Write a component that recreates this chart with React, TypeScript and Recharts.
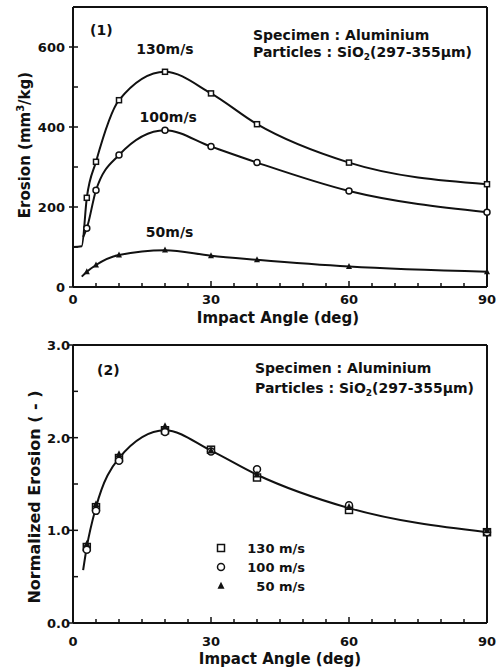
import { ComposedChart, Line, Scatter, XAxis, YAxis, ReferenceLine, ReferenceDot, Legend } from 'recharts'

// impact angles (deg) where erosion was measured
const angles = [3, 5, 10, 20, 30, 40, 60, 90]

// panel (1): erosion, mm3/kg
const erosion130 = [223, 313, 467, 538, 484, 407, 311, 257]
const erosion100 = [147, 242, 330, 392, 351, 311, 240, 187]
const erosion50 = [38, 55, 80, 92, 78, 68, 51, 38]

// the drawn curves start a little left of the first measured angle
const curveStartAngles130 = [0, 1.9]
const curveStartValues130 = [100, 102]
const curveStartAngles100 = [2.2]
const curveStartValues100 = [125]
const curveStartAngles50 = [1.9]
const curveStartValues50 = [26]

// panel (2): normalized erosion
const norm130 = [0.82, 1.25, 1.78, 2.08, 1.87, 1.57, 1.22, 0.98]
const norm100 = [0.79, 1.21, 1.75, 2.06, 1.85, 1.66, 1.27, 0.98]
const norm50 = [0.85, 1.28, 1.82, 2.12, 1.86, 1.6, 1.25, 1.0]
const normFit = [0.82, 1.25, 1.78, 2.08, 1.86, 1.6, 1.24, 0.98]
const normStartAngles = [2.2]
const normStartValues = [0.57]

const xTicks = [0, 5, 10, 15, 20, 25, 30, 35, 40, 45, 50, 55, 60, 65, 70, 75, 80, 85, 90]
const xTickLabels = ['0', '30', '60', '90']
const erosionTicks = [0, 100, 200, 300, 400, 500, 600, 700]
const erosionTickLabels = ['0', '200', '400', '600']
const normTicks = [0, 0.5, 1, 1.5, 2, 2.5, 3]
const normTickLabels = ['0.0', '1.0', '2.0', '3.0']

const speeds = ['130 m/s', '100 m/s', '50 m/s']

const pts = (xs: number[], ys: number[]) => xs.map((x, i) => ({ x, y: ys[i] }))

const FONT = '"DejaVu Sans", "Liberation Sans", sans-serif'
const INK = '#111'

function makeXTick(labelDy: number) {
  return function XTick({ x, y, payload }: any) {
    const label = xTickLabels.find((l) => Number(l) === payload.value)
    return (
      <g>
        <line x1={x} y1={y} x2={x} y2={y - (label ? 6 : 4)} stroke={INK} strokeWidth={1.5} />
        {label && (
          <text x={x} y={y + labelDy} textAnchor="middle" fontFamily={FONT} fontWeight="bold" fontSize={13} fill={INK}>
            {label}
          </text>
        )}
      </g>
    )
  }
}

function makeYTick(labels: string[], gap: number) {
  return function YTick({ x, y, payload }: any) {
    const label = labels.find((l) => Number(l) === payload.value)
    return (
      <g>
        <line x1={x} y1={y} x2={x + 5} y2={y} stroke={INK} strokeWidth={1.5} />
        {label && <line x1={x - 4} y1={y} x2={x} y2={y} stroke={INK} strokeWidth={1.5} />}
        {label && (
          <text x={x - gap} y={y + 5} textAnchor="end" fontFamily={FONT} fontWeight="bold" fontSize={13} fill={INK}>
            {label}
          </text>
        )}
      </g>
    )
  }
}

const openSquare = (s: number) => ({ cx, cy }: any) => (
  <rect x={cx - s / 2} y={cy - s / 2} width={s} height={s} fill="#fff" stroke={INK} strokeWidth={1.5} />
)
const openCircle = (r: number) => ({ cx, cy }: any) => (
  <circle cx={cx} cy={cy} r={r} fill="#fff" stroke={INK} strokeWidth={1.5} />
)
const solidTriangle = (s: number) => ({ cx, cy }: any) => (
  <path d={`M${cx},${cy - s * 0.6}L${cx + s / 2},${cy + s * 0.4}L${cx - s / 2},${cy + s * 0.4}Z`} fill={INK} />
)

function SpeedLabel({ viewBox, value }: any) {
  return (
    <text x={viewBox.x} y={viewBox.y + 5} textAnchor="middle" fontFamily={FONT} fontWeight="bold" fontSize={14} fill={INK}>
      {value}
    </text>
  )
}

function NormLegend() {
  const shapes = [openSquare(7), openCircle(3.5), solidTriangle(7)]
  return (
    <svg width={110} height={60}>
      {speeds.map((s, i) => (
        <g key={s}>
          {shapes[i]({ cx: 9, cy: 8 + i * 19 })}
          <text x={93} y={13 + i * 19} textAnchor="end" fontFamily={FONT} fontWeight="bold" fontSize={13} fill={INK}>
            {s}
          </text>
        </g>
      ))}
    </svg>
  )
}

const textStyle = { fontFamily: FONT, fontWeight: 'bold' as const, fill: INK }

export default function App() {
  const c130 = [...pts(curveStartAngles130, curveStartValues130), ...pts(angles, erosion130)]
  const c100 = [...pts(curveStartAngles100, curveStartValues100), ...pts(angles, erosion100)]
  const c50 = [...pts(curveStartAngles50, curveStartValues50), ...pts(angles, erosion50)]
  const cNorm = [...pts(normStartAngles, normStartValues), ...pts(angles, normFit)]

  return (
    <div style={{ position: 'absolute', left: 0, top: 0, width: 499, height: 671, background: '#fff' }}>
      <div style={{ position: 'absolute', left: 0, top: 0 }}>
        <ComposedChart width={499} height={330} margin={{ top: 7, right: 12, left: 0, bottom: 0 }}>
          <XAxis
            type="number"
            dataKey="x"
            domain={[0, 90]}
            ticks={xTicks}
            interval={0}
            height={43}
            tickSize={0}
            tickMargin={0}
            tick={makeXTick(17)}
            axisLine={{ stroke: INK, strokeWidth: 2 }}
          />
          <YAxis
            type="number"
            dataKey="y"
            domain={[0, 700]}
            ticks={erosionTicks}
            interval={0}
            width={73}
            tickSize={0}
            tickMargin={0}
            tick={makeYTick(erosionTickLabels, 8)}
            axisLine={{ stroke: INK, strokeWidth: 2 }}
          />
          <ReferenceLine y={700} stroke={INK} strokeWidth={2} />
          <ReferenceLine x={90} stroke={INK} strokeWidth={2} />
          <Line data={c130} dataKey="y" type="monotone" stroke={INK} strokeWidth={2} dot={false} isAnimationActive={false} />
          <Line data={c100} dataKey="y" type="monotone" stroke={INK} strokeWidth={2} dot={false} isAnimationActive={false} />
          <Line data={c50} dataKey="y" type="monotone" stroke={INK} strokeWidth={2} dot={false} isAnimationActive={false} />
          <Scatter data={pts(angles, erosion130)} shape={openSquare(5)} isAnimationActive={false} />
          <Scatter data={pts(angles, erosion100)} shape={openCircle(3)} isAnimationActive={false} />
          <Scatter data={pts(angles, erosion50)} shape={solidTriangle(6)} isAnimationActive={false} />
          <ReferenceDot x={20} y={595} r={0} label={<SpeedLabel value="130m/s" />} />
          <ReferenceDot x={20.7} y={425} r={0} label={<SpeedLabel value="100m/s" />} />
          <ReferenceDot x={21} y={137} r={0} label={<SpeedLabel value="50m/s" />} />
        </ComposedChart>
      </div>

      <div style={{ position: 'absolute', left: 0, top: 330 }}>
        <ComposedChart width={499} height={341} margin={{ top: 15, right: 12, left: 0, bottom: 0 }}>
          <XAxis
            type="number"
            dataKey="x"
            domain={[0, 90]}
            ticks={xTicks}
            interval={0}
            height={48}
            tickSize={0}
            tickMargin={0}
            tick={makeXTick(23)}
            axisLine={{ stroke: INK, strokeWidth: 2 }}
          />
          <YAxis
            type="number"
            dataKey="y"
            domain={[0, 3]}
            ticks={normTicks}
            interval={0}
            width={73}
            tickSize={0}
            tickMargin={0}
            tick={makeYTick(normTickLabels, 3)}
            axisLine={{ stroke: INK, strokeWidth: 2 }}
          />
          <ReferenceLine y={3} stroke={INK} strokeWidth={2} />
          <ReferenceLine x={90} stroke={INK} strokeWidth={2} />
          <Line data={cNorm} dataKey="y" type="monotone" stroke={INK} strokeWidth={2} dot={false} isAnimationActive={false} />
          <Scatter name={speeds[0]} data={pts(angles, norm130)} shape={openSquare(7)} isAnimationActive={false} />
          <Scatter name={speeds[1]} data={pts(angles, norm100)} shape={openCircle(3.5)} isAnimationActive={false} />
          <Scatter name={speeds[2]} data={pts(angles, norm50)} shape={solidTriangle(7)} isAnimationActive={false} />
          <Legend
            layout="horizontal"
            verticalAlign="middle"
            align="center"
            content={() => <NormLegend />}
            wrapperStyle={{ left: 212, top: 210, width: 110, height: 60 }}
          />
        </ComposedChart>
      </div>

      <svg width={499} height={671} style={{ position: 'absolute', left: 0, top: 0, pointerEvents: 'none' }}>
        <g {...textStyle}>
          <text x={90} y={35} fontSize={14}>(1)</text>
          <text x={253} y={40} fontSize={14}>Specimen : Aluminium</text>
          <text x={253} y={57} fontSize={14}>
            Particles : SiO<tspan fontSize={9} dy={3}>2</tspan><tspan dy={-3}>(297-355μm)</tspan>
          </text>
          <text x={278} y={323} fontSize={15} textAnchor="middle">Impact Angle (deg)</text>
          <text x={0} y={0} fontSize={15} textAnchor="middle" transform="translate(30,145) rotate(-90)">
            Erosion (mm<tspan fontSize={10} dy={-6}>3</tspan><tspan dy={6}>/kg)</tspan>
          </text>

          <text x={97} y={375} fontSize={14}>(2)</text>
          <text x={255} y={373} fontSize={14}>Specimen : Aluminium</text>
          <text x={255} y={393} fontSize={14}>
            Particles : SiO<tspan fontSize={9} dy={3}>2</tspan><tspan dy={-3}>(297-355μm)</tspan>
          </text>
          <text x={280} y={664} fontSize={15} textAnchor="middle">Impact Angle (deg)</text>
          <text x={0} y={0} fontSize={16} textAnchor="middle" transform="translate(40,497) rotate(-90)">
            Normalized Erosion ( - )
          </text>
        </g>
      </svg>
    </div>
  )
}
